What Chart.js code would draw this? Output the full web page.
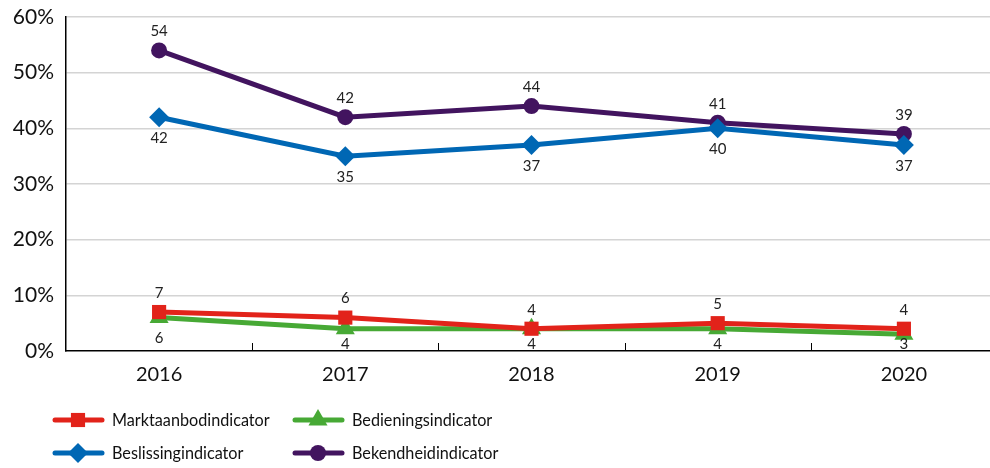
<!DOCTYPE html>
<html><head><meta charset="utf-8">
<script src="https://cdn.jsdelivr.net/npm/chart.js@4/dist/chart.umd.min.js"></script>
<style>html,body{margin:0;padding:0;background:#fff}#w{width:990px;height:468px}</style>
</head><body><div id="w"><canvas id="c" width="990" height="468"></canvas></div>
<script>
const years = ['2016', '2017', '2018', '2019', '2020'];
const marktaanbod = [7, 6, 4, 5, 4];
const bediening = [6, 4, 4, 4, 3];
const beslissing = [42, 35, 37, 40, 37];
const bekendheid = [54, 42, 44, 41, 39];
const yTicks = [0, 10, 20, 30, 40, 50, 60];

const FONT = "Lato, 'Open Sans', sans-serif";
const series = [
  {label: 'Marktaanbodindicator', data: marktaanbod, color: '#e2231a', style: 'rect', r: 10, pos: 'above'},
  {label: 'Bedieningsindicator', data: bediening, color: '#47a935', style: 'triangle', r: 11, pos: 'below'},
  {label: 'Beslissingindicator', data: beslissing, color: '#0067b4', style: 'rectRot', r: 10, pos: 'below'},
  {label: 'Bekendheidindicator', data: bekendheid, color: '#42145f', style: 'circle', r: 8, pos: 'above'}
];

const widenPlugin = {
  id: 'widen',
  afterLayout(chart) {
    const x = chart.scales.x;
    const newRight = 997;
    x.right = newRight;
    x.width = x.right - x.left;
    x.configure();
    chart.chartArea.right = newRight;
    chart.chartArea.width = newRight - chart.chartArea.left;
  }
};

const labelPlugin = {
  id: 'vals',
  afterDatasetsDraw(chart) {
    const ctx = chart.ctx;
    const maxY = chart.chartArea.bottom - 7;
    ctx.save();
    ctx.font = "15px " + FONT;
    ctx.fillStyle = '#222';
    ctx.textAlign = 'center';
    ctx.textBaseline = 'middle';
    chart.data.datasets.forEach((ds, di) => {
      const meta = chart.getDatasetMeta(di);
      meta.data.forEach((pt, i) => {
        let y = ds.pos === 'above' ? pt.y - 19 : Math.min(pt.y + 21, maxY);
        ctx.fillText(String(ds.data[i]), pt.x, y);
      });
    });
    ctx.restore();
  }
};

const tickPlugin = {
  id: 'midticks',
  afterDraw(chart) {
    const x = chart.scales.x, ctx = chart.ctx;
    const yb = chart.chartArea.bottom;
    ctx.save();
    ctx.strokeStyle = '#000';
    ctx.lineWidth = 1;
    for (let i = 0; i < years.length - 1; i++) {
      const px = Math.round((x.getPixelForValue(i) + x.getPixelForValue(i + 1)) / 2) + 0.5;
      ctx.beginPath(); ctx.moveTo(px, yb); ctx.lineTo(px, yb - 8); ctx.stroke();
    }
    ctx.restore();
  }
};

const legendPlugin = {
  id: 'leg',
  afterDraw(chart) {
    const ctx = chart.ctx;
    const cols = [52, 292], rows = [420, 453];
    chart.data.datasets.forEach((ds, i) => {
      const x = cols[i % 2], y = rows[Math.floor(i / 2)];
      ctx.save();
      ctx.strokeStyle = ds.borderColor; ctx.lineWidth = 5; ctx.lineCap = 'round';
      ctx.beginPath(); ctx.moveTo(x + 3, y); ctx.lineTo(x + 50, y); ctx.stroke();
      ctx.fillStyle = ds.borderColor;
      Chart.helpers.drawPoint(ctx, {pointStyle: ds.pointStyle, radius: ds.pointRadius, borderWidth: 0}, x + 26, y);
      ctx.fillStyle = '#111';
      ctx.font = "18px " + FONT;
      ctx.textAlign = 'left'; ctx.textBaseline = 'middle';
      ctx.translate(x + 60, y);
      ctx.scale(0.9, 1);
      ctx.fillText(ds.label, 0, 0);
      ctx.restore();
    });
  }
};

new Chart(document.getElementById('c'), {
  type: 'line',
  data: {
    labels: years,
    datasets: series.map(s => ({
      label: s.label, data: s.data, pos: s.pos,
      borderColor: s.color, backgroundColor: s.color,
      borderWidth: 5, pointStyle: s.style, pointRadius: s.r, pointHoverRadius: s.r,
      pointBorderWidth: 0, tension: 0, clip: false
    }))
  },
  options: {
    responsive: false, animation: false,
    layout: {autoPadding: false, padding: {top: 17, right: 0, bottom: 80, left: 0}},
    plugins: {legend: {display: false}, tooltip: {enabled: false}},
    scales: {
      x: {
        offset: true,
        grid: {display: false, drawTicks: false},
        border: {color: '#000', width: 1.5},
        ticks: {padding: 12, color: '#111', font: {size: 20, family: FONT}},
        afterFit(s) { s.height = 37; s.paddingLeft = 0; s.paddingRight = 0; }
      },
      y: {
        min: 0, max: 60,
        afterBuildTicks(s) { s.ticks = yTicks.map(v => ({value: v})); },
        grid: {color: ctx => ctx.tick && ctx.tick.value === 0 ? 'rgba(0,0,0,0)' : '#d4d4d4', lineWidth: 1.5, drawTicks: false},
        border: {color: '#000', width: 1.5},
        ticks: {padding: 12, color: '#111', font: {size: 21, family: FONT}, callback: v => v + '%'},
        afterFit(s) { s.width = 66; s.paddingTop = 0; s.paddingBottom = 0; }
      }
    }
  },
  plugins: [widenPlugin, labelPlugin, tickPlugin, legendPlugin]
});
</script></body></html>
